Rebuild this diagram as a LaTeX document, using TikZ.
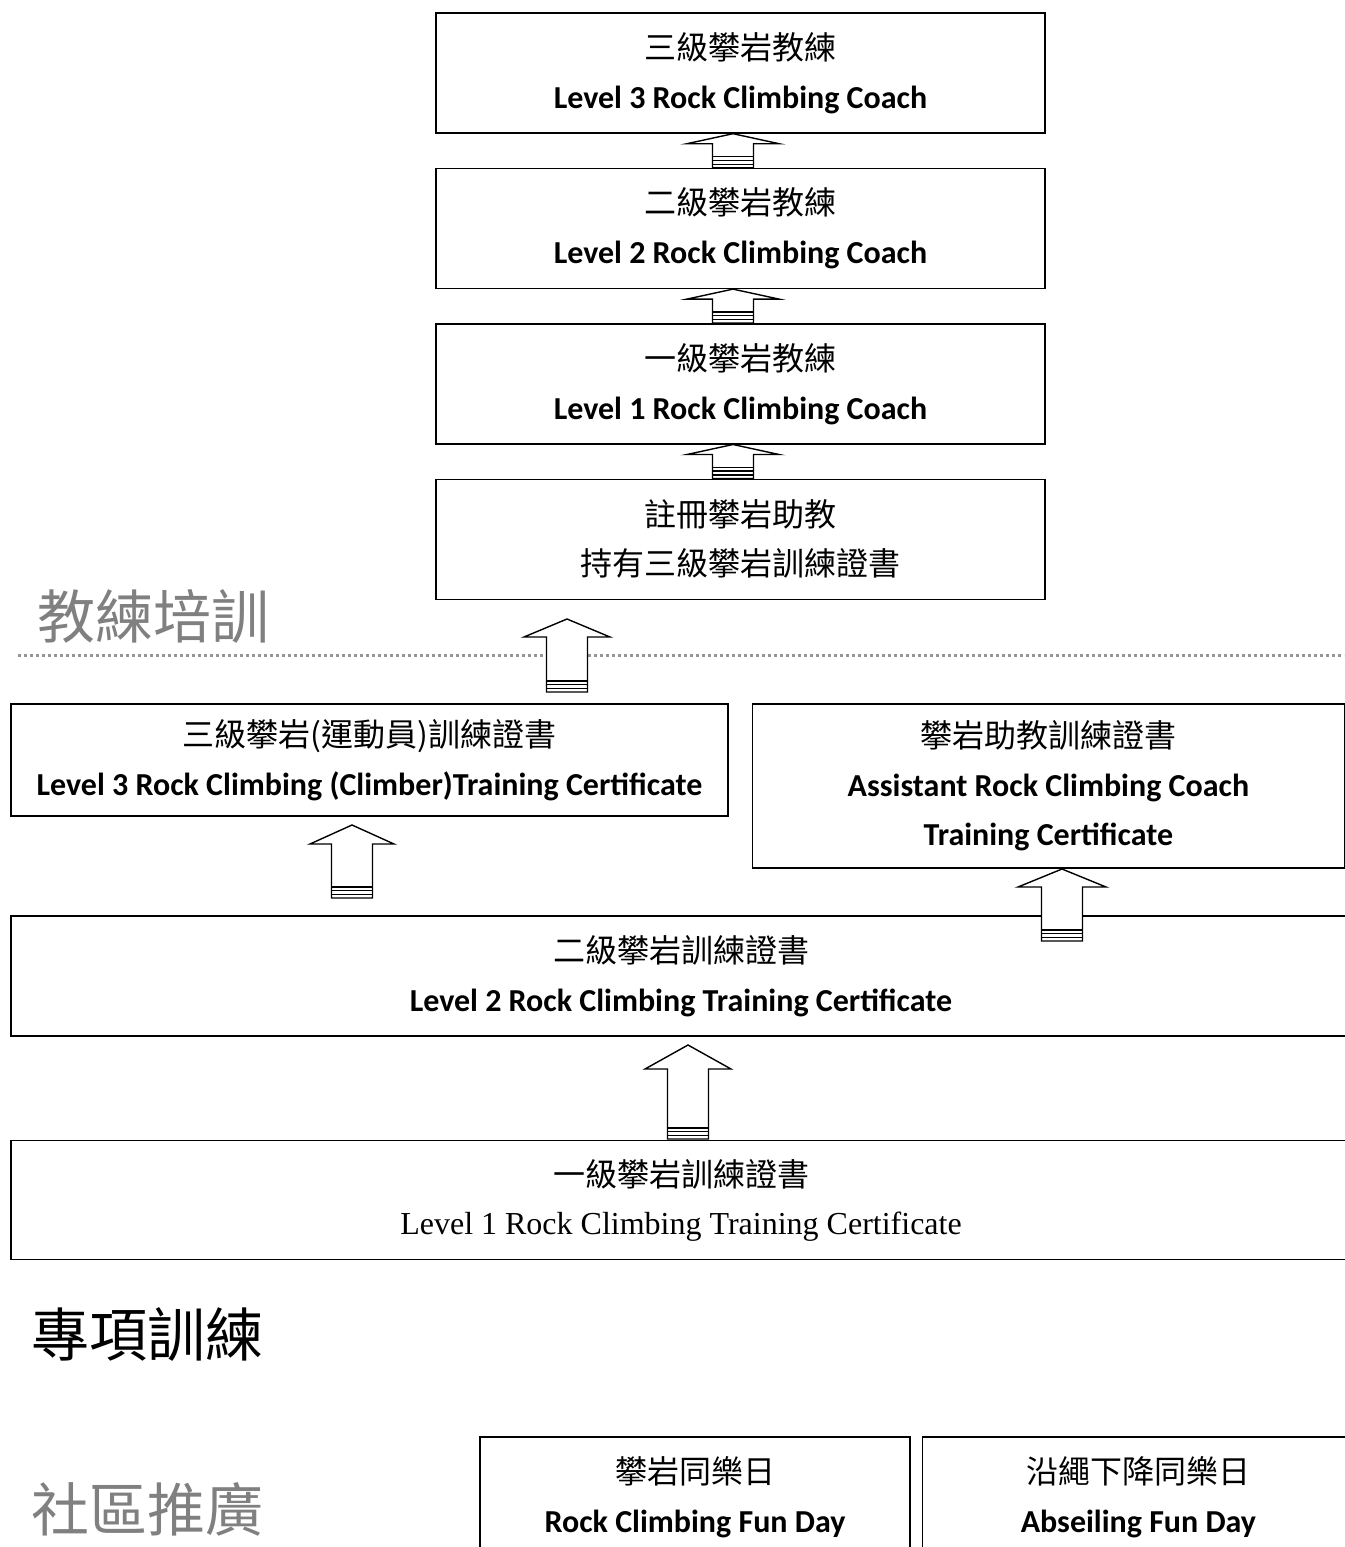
\documentclass[tikz,border=0pt]{standalone}
\usepackage{fontspec}
\setmainfont{Carlito}
\newfontfamily\zhfont{Noto Sans CJK TC}
\newfontfamily\seriffont{Liberation Serif}
\usetikzlibrary{positioning}
\usetikzlibrary{calc}
\definecolor{titlegray}{RGB}{128,128,128}
\definecolor{dotgray}{RGB}{150,150,150}
\newcommand{\zh}[1]{{\zhfont\mdseries\fontsize{32}{49}\selectfont #1}}
% block arrow: #1 tip, #2 base, #3 head height, #4 half wing
\newcommand{\blockarrow}[4]{%
  \draw[arrowline] let \p1=(#1), \p2=(#2) in
    (\x1,\y1) -- (\x1+#4pt,\y1-#3pt) -- (\x1+20.5pt,\y1-#3pt) -- (\x1+20.5pt,\y2)
    -- (\x1-20.5pt,\y2) -- (\x1-20.5pt,\y1-#3pt) -- (\x1-#4pt,\y1-#3pt) -- cycle;
  \foreach \d in {3.5,7.5,11} \draw[line width=1.4pt] let \p1=(#1), \p2=(#2) in (\x1-20.5pt,\y2+\d pt) -- (\x1+20.5pt,\y2+\d pt);
}
\begin{document}
\begin{tikzpicture}[x=1pt,y=-1pt,
  box/.style={draw,line width=1.4pt,align=center,inner sep=0pt,font=\fontsize{32}{49}\selectfont\bfseries},
  title/.style={anchor=west,inner sep=0pt,font=\zhfont\fontsize{58}{60}\selectfont},
  arrowline/.style={draw,fill=white,line width=1.4pt,line join=miter},
  dotline/.style={dotgray,line width=3pt,dash pattern=on 3pt off 3pt}]
\useasboundingbox (0,0) rectangle (1344,1547);

% coach stack
\node[box,minimum width=609,minimum height=120] (coachthree) at (740.5,73) {\zh{三級攀岩教練}\\Level 3 Rock Climbing Coach};
\node[box,minimum width=609,minimum height=120,below=34pt of coachthree] (coachtwo) {\zh{二級攀岩教練}\\Level 2 Rock Climbing Coach};
\node[box,minimum width=609,minimum height=120,below=34pt of coachtwo] (coachone) {\zh{一級攀岩教練}\\Level 1 Rock Climbing Coach};
\node[box,minimum width=609,minimum height=120,below=34pt of coachone] (assistreg) {\zh{註冊攀岩助教}\\\zh{持有三級攀岩訓練證書}};

% titles
\node[title,text=titlegray] (titlecoach) at (37,616) {教練培訓};
\node[title] (titlespecial) at (31,1334) {專項訓練};
\node[title,text=titlegray] (titlecommunity) at (31,1509) {社區推廣};
\draw[dotline] (18,655) -- (1344,655);

% certificates
\node[box,minimum width=717,minimum height=112] (climberthree) at (369.5,760) {\zh{三級攀岩(運動員)訓練證書}\\Level 3 Rock Climbing (Climber)Training Certificate};
\node[box,minimum width=592,minimum height=164,anchor=north west,xshift=23pt] (assistcert) at (climberthree.north east) {\zh{攀岩助教訓練證書}\\Assistant Rock Climbing Coach\\Training Certificate};
\node[box,minimum width=1340,minimum height=120] (trainingtwo) at (681,976) {\zh{二級攀岩訓練證書}\\Level 2 Rock Climbing Training Certificate};
\node[box,minimum width=1340,minimum height=119,below=103pt of trainingtwo,font=\seriffont\fontsize{32}{48}\selectfont] (trainingone) {\zh{一級攀岩訓練證書}\\Level 1 Rock Climbing Training Certificate};

% fun days
\node[box,minimum width=430,minimum height=120] (funday) at (695,1497) {\zh{攀岩同樂日}\\Rock Climbing Fun Day};
\node[box,minimum width=432,minimum height=120,right=11pt of funday] (abseil) {\zh{沿繩下降同樂日}\\Abseiling Fun Day};

% arrows
\coordinate (colcoach) at (733,0);
\coordinate (tipA) at (567,619);
\coordinate (baseA) at (567,692);
\coordinate (tipB) at (352,825);
\coordinate (baseB) at (352,898);
\coordinate (tipC) at (1062,869);
\coordinate (baseC) at (1062,941);
\coordinate (tipD) at (688,1045);
\coordinate (baseD) at (688,1139);
\blockarrow{coachthree.south -| colcoach}{coachtwo.north -| colcoach}{10}{46}
\blockarrow{coachtwo.south -| colcoach}{coachone.north -| colcoach}{10}{46}
\blockarrow{coachone.south -| colcoach}{assistreg.north -| colcoach}{10}{46}
\blockarrow{tipA}{baseA}{18}{43}
\blockarrow{tipB}{baseB}{19}{42}
\blockarrow{tipC}{baseC}{18}{44}
\blockarrow{tipD}{baseD}{24}{43}
\end{tikzpicture}
\end{document}
